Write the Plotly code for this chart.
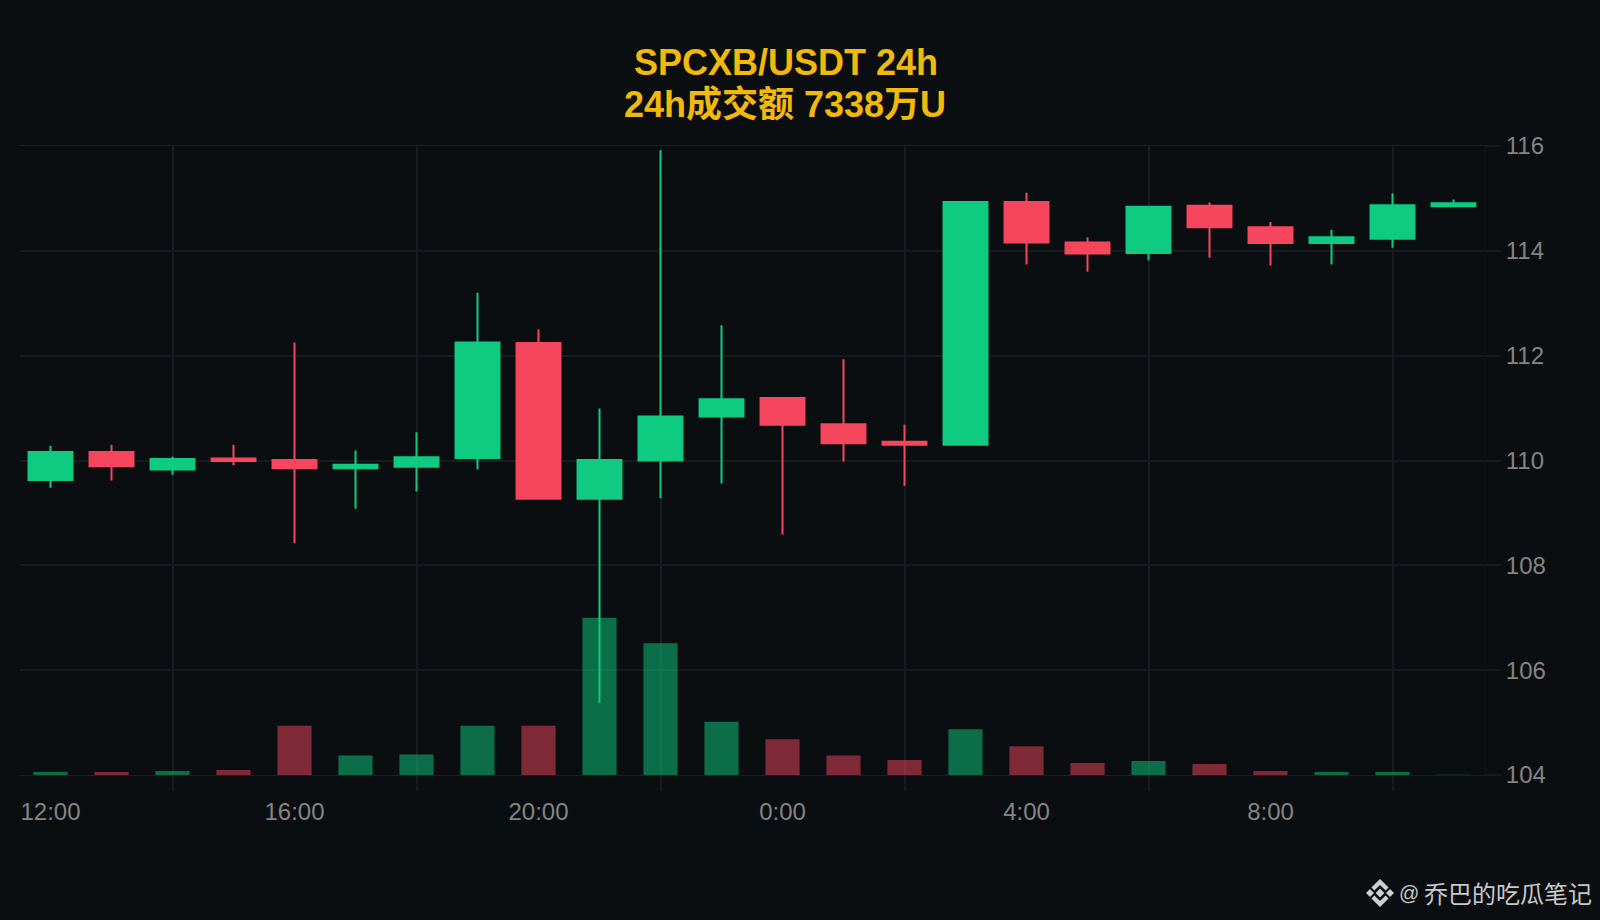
import plotly.graph_objects as go

W, H = 1600, 920
L, R, T, B = 20, 1484, 146, 775

hours = ["12:00","13:00","14:00","15:00","16:00","17:00","18:00","19:00","20:00","21:00","22:00","23:00",
         "0:00","1:00","2:00","3:00","4:00","5:00","6:00","7:00","8:00","9:00","10:00","11:00"]
opens  = [109.63,110.16,109.83,110.04,110.01,109.85,109.88,110.05,112.24,109.27,110.00,110.84,
          111.19,110.69,110.36,110.30,114.93,114.16,113.96,114.86,114.45,114.15,114.23,114.85]
closes = [110.16,109.89,110.03,109.99,109.85,109.92,110.06,112.25,109.27,110.01,110.84,111.17,
          110.68,110.33,110.30,114.93,114.16,113.95,114.84,114.45,114.15,114.26,114.87,114.91]
highs  = [110.28,110.30,110.07,110.30,112.25,110.19,110.54,113.20,112.50,110.99,115.92,112.58,
          111.19,111.93,110.68,114.95,115.11,114.26,114.84,114.92,114.55,114.40,115.10,114.98]
lows   = [109.48,109.62,109.73,109.91,108.42,109.08,109.41,109.83,109.27,105.38,109.28,109.56,
          108.59,109.98,109.52,110.28,113.74,113.60,113.82,113.87,113.72,113.74,114.06,114.85]
volumes = [30,30,40,50,490,195,205,490,490,1565,1310,530,355,195,150,455,285,120,140,110,40,30,30,3]
price_ticks = [104,106,108,110,112,114,116]
label_hours = ["12:00","16:00","20:00","0:00","4:00","8:00"]
grid_hours = ["14:00","18:00","22:00","2:00","6:00","10:00"]

GREEN, RED = "#0ecb81", "#f6465d"
GRID = "#171b1f"
BG = "#0b0e11"
LATIN = "Liberation Sans, Arial, sans-serif"
CJK = "Liberation Sans, Noto Sans CJK SC, sans-serif"
bar_colors = ["rgba(14,203,129,0.5)" if c >= o else "rgba(246,70,93,0.5)" for o, c in zip(opens, closes)]

fig = go.Figure()
fig.add_trace(go.Bar(x=hours, y=volumes, marker=dict(color=bar_colors, line_width=0), width=0.56,
                     xaxis="x", yaxis="y", showlegend=False))
fig.add_trace(go.Candlestick(x=hours, open=opens, high=highs, low=lows, close=closes,
                             increasing=dict(line=dict(color=GREEN, width=2), fillcolor=GREEN),
                             decreasing=dict(line=dict(color=RED, width=2), fillcolor=RED),
                             whiskerwidth=0, xaxis="x2", yaxis="y2", showlegend=False))

def px(x):
    return (x - L) / (R - L)
def py(y):
    return (B - y) / (B - T)
def poly_path(pts):
    return "M" + " L".join(f"{px(a):.5f},{py(b):.5f}" for a, b in pts) + " Z"

cx, cy = 1380, 893
logo = [
    [(cx, cy-4.4), (cx+4.4, cy), (cx, cy+4.4), (cx-4.4, cy)],
    [(cx-14, cy), (cx-10, cy-4), (cx-6, cy), (cx-10, cy+4)],
    [(cx+14, cy), (cx+10, cy-4), (cx+6, cy), (cx+10, cy+4)],
    [(cx, cy-14), (cx+8.6, cy-5.4), (cx+5.6, cy-2.4), (cx, cy-8), (cx-5.6, cy-2.4), (cx-8.6, cy-5.4)],
    [(cx, cy+14), (cx+8.6, cy+5.4), (cx+5.6, cy+2.4), (cx, cy+8), (cx-5.6, cy+2.4), (cx-8.6, cy+5.4)],
]
shapes = [dict(type="path", xref="paper", yref="paper", path=poly_path(p),
               fillcolor="#cfcfcf", line_width=0, layer="above") for p in logo]

fig.update_layout(
    width=W, height=H, autosize=False,
    margin=dict(l=L, r=W-R, t=T, b=H-B, pad=0),
    paper_bgcolor=BG, plot_bgcolor=BG,
    showlegend=False, boxgap=0.28, boxgroupgap=0,
    shapes=shapes,
    xaxis=dict(type="category", categoryorder="array", categoryarray=hours, range=[-0.5, 23.5],
               tickmode="array", tickvals=label_hours, ticktext=label_hours,
               showgrid=False, zeroline=False, showline=True, linecolor="#1b1f23", linewidth=1, mirror=True,
               layer="below traces", ticks="", ticklabelstandoff=15,
               tickfont=dict(family=LATIN, size=24, color="#848484"), rangeslider=dict(visible=False)),
    xaxis2=dict(type="category", categoryorder="array", categoryarray=hours, range=[-0.5, 23.5],
                overlaying="x", anchor="y", side="bottom",
                tickmode="array", tickvals=grid_hours, showticklabels=False,
                showgrid=True, gridcolor=GRID, gridwidth=2, zeroline=False, showline=False,
                ticks="outside", ticklen=15, tickwidth=2, tickcolor=GRID,
                rangeslider=dict(visible=False)),
    yaxis=dict(range=[0, max(volumes)*4], showgrid=False, zeroline=False, showticklabels=False, ticks="", showline=False),
    yaxis2=dict(range=[104, 116], overlaying="y", side="right", anchor="x",
                tickmode="array", tickvals=price_ticks, showgrid=True, gridcolor=GRID, gridwidth=2,
                zeroline=False, showline=True, linecolor="#111417", linewidth=1,
                ticks="outside", ticklen=16, tickwidth=2, tickcolor=GRID, ticklabelstandoff=0,
                tickfont=dict(family=LATIN, size=24, color="#848484")),
    annotations=[
        dict(text="<b>SPCXB/USDT 24h</b>", xref="paper", yref="paper",
             x=px(786), y=py(62.5), xanchor="center", yanchor="middle", showarrow=False,
             font=dict(family=CJK, size=36, color="#f0b90b")),
        dict(text="<b>24h成交额 7338万U</b>", xref="paper", yref="paper",
             x=px(785), y=py(104), xanchor="center", yanchor="middle", showarrow=False,
             font=dict(family=CJK, size=36, color="#f0b90b")),
        dict(text="@", xref="paper", yref="paper",
             x=px(1409), y=py(893), xanchor="center", yanchor="middle", showarrow=False,
             font=dict(family=LATIN, size=20, color="#c8c8c8")),
        dict(text="乔巴的吃瓜笔记", xref="paper", yref="paper",
             x=px(1594), y=py(892), xanchor="right", yanchor="middle", showarrow=False,
             font=dict(family="Noto Sans CJK SC, sans-serif", size=24, color="#c8c8c8")),
    ],
)
fig.write_html("out.html", config={"displayModeBar": False}, post_script="document.body.style.margin='0';")
